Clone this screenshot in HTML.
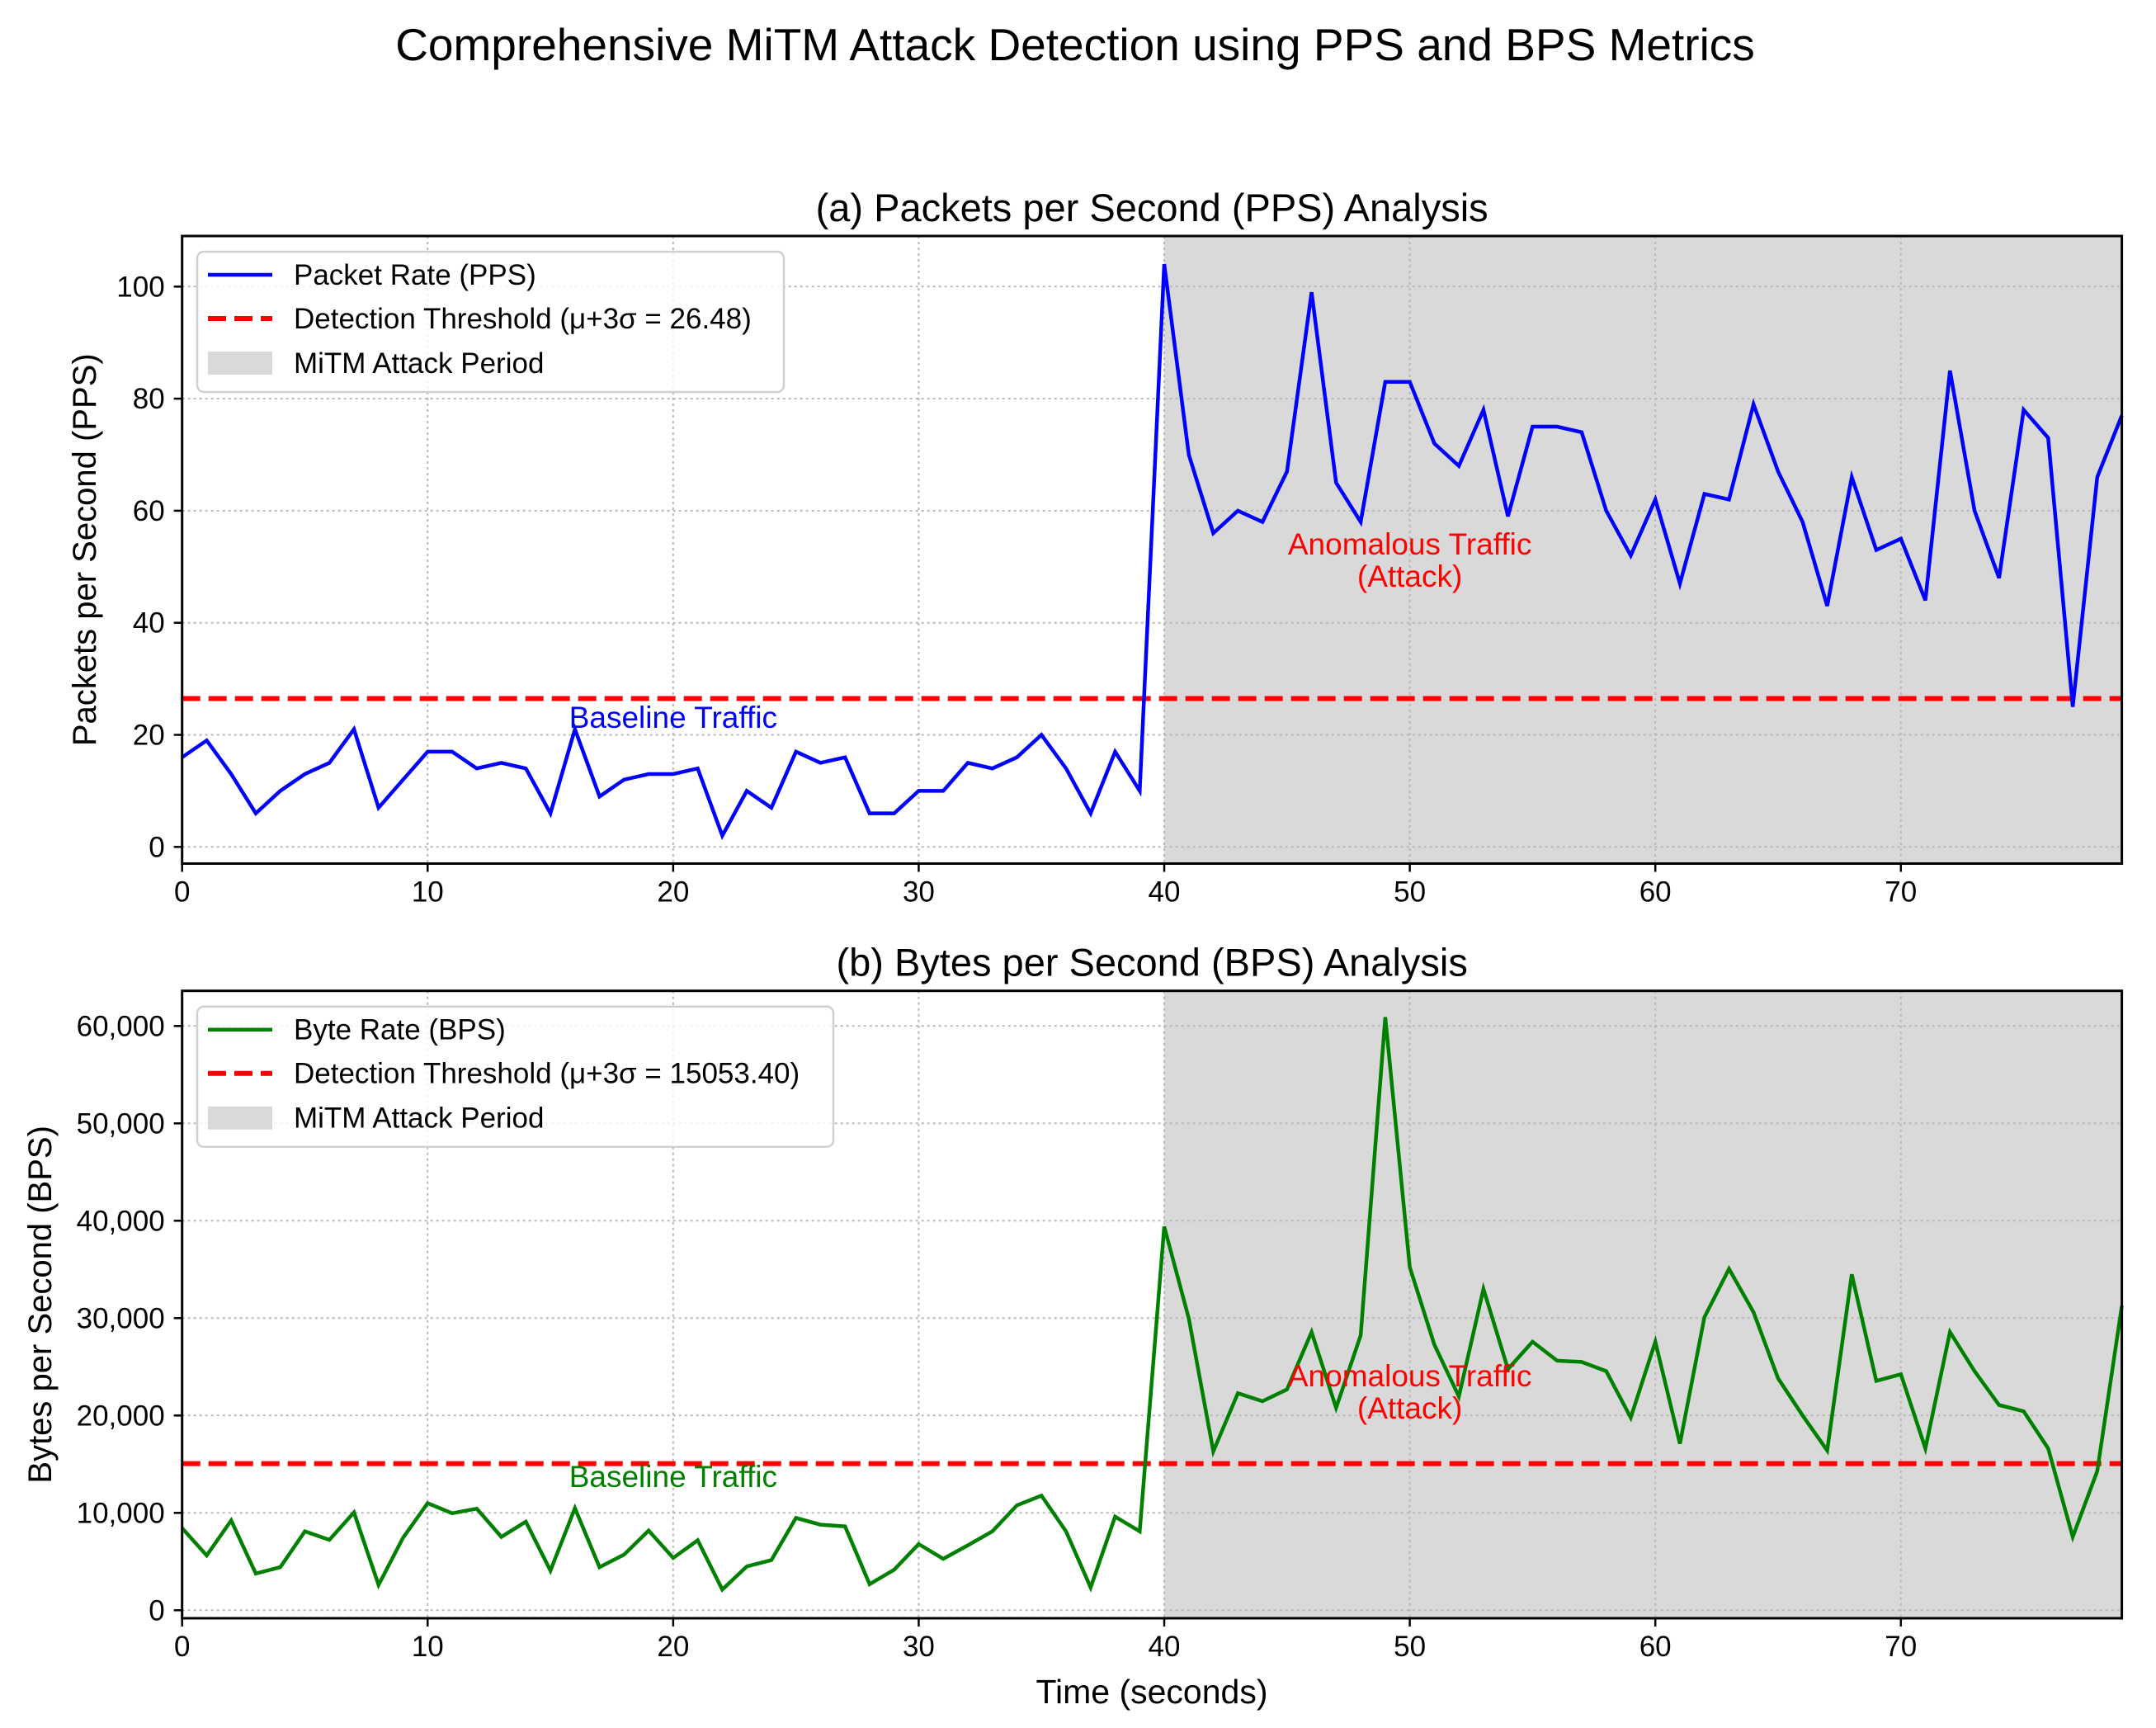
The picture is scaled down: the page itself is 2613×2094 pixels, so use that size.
<!DOCTYPE html>
<html><head><meta charset="utf-8"><style>
html,body{margin:0;padding:0;background:#fff;}
svg{display:block;font-family:"Liberation Sans",sans-serif;}
</style></head><body>
<svg id="chart" width="2613" height="2094" viewBox="0 0 2613 2094" xmlns="http://www.w3.org/2000/svg">
<rect width="2613" height="2094" fill="#fff"/>
<text x="1303" y="73" font-size="55" text-anchor="middle">Comprehensive MiTM Attack Detection using PPS and BPS Metrics</text>
<g id="top"></g>
<g id="bottom"></g>
</svg>
<script>
const timeSeconds = Array.from({length:80},(_, i)=>i);
const ppsValues = [16,19,13,6,10,13,15,21,7,12,17,17,14,15,14,6,21,9,12,13,13,14,2,10,7,17,15,16,6,6,10,10,15,14,16,20,14,6,17,10,
104,70,56,60,58,67,99,65,58,83,83,72,68,78,59,75,75,74,60,52,62,47,63,62,79,67,58,43,66,53,55,44,85,60,48,78,73,25,66,77];
const bpsValues = [8440,5630,9220,3770,4420,8100,7230,10040,2600,7450,11000,9960,10430,7530,9090,4070,10480,4420,5710,8180,5370,7190,2120,4500,5150,9480,8790,8610,2680,4160,6800,5280,6670,8100,10780,11770,8100,2340,9610,8100,
39400,29960,16320,22290,21470,22680,28570,20780,28230,60910,35240,27270,21950,32990,24760,27580,25630,25500,24550,19780,27580,17100,30090,35060,30610,23810,20000,16410,34500,23550,24240,16620,28570,24550,21080,20430,16620,7530,14290,31260];
const ppsThreshold = 26.48;
const bpsThreshold = 15053.40;
const attackStart = 40;
const attackEnd = 79;
const xTicks = [0,10,20,30,40,50,60,70];
const ppsTicks = [0,20,40,60,80,100];
const bpsTicks = [0,10000,20000,30000,40000,50000,60000];

const NS="http://www.w3.org/2000/svg";
function mk(parent,tag,attrs,text){const e=document.createElementNS(NS,tag);for(const k in attrs)e.setAttribute(k,attrs[k]);if(text!==undefined)e.textContent=text;parent.appendChild(e);return e;}

function panel(g,cfg){
  const L=220.7,R=2571.6,T=cfg.top,B=cfg.bottom;
  const xs=v=>L+(v-0)*(R-L)/79;
  const ys=v=>cfg.y0+(v-0)*(cfg.yTopPx-cfg.y0)/cfg.yTopVal;
  const sp=mk(g,'rect',{x:xs(attackStart),y:T,width:xs(attackEnd)-xs(attackStart),height:B-T,fill:'#d9d9d9'});
  
  
  xTicks.forEach(t=>{const l=mk(g,'line',{x1:xs(t),x2:xs(t),y1:T,y2:B,stroke:'#b8b8b8','stroke-width':2,'stroke-dasharray':'3,4'});
    });
  cfg.yTicks.forEach(t=>{const l=mk(g,'line',{x1:L,x2:R,y1:ys(t),y2:ys(t),stroke:'#b8b8b8','stroke-width':2,'stroke-dasharray':'3,4'});
    });
  const th=mk(g,'line',{x1:L,x2:R,y1:ys(cfg.threshold),y2:ys(cfg.threshold),stroke:'#ff0000','stroke-width':6,'stroke-dasharray':'22,10'});
  
  const pts=cfg.values.map((v,i)=>xs(timeSeconds[i]).toFixed(1)+','+ys(v).toFixed(1)).join(' ');
  const pl=mk(g,'polyline',{points:pts,fill:'none',stroke:cfg.color,'stroke-width':4.5,'stroke-linejoin':'miter'});
  
  const a1=mk(g,'text',{x:xs(20),y:cfg.baseY,'font-size':37,'text-anchor':'middle',fill:cfg.color},'Baseline Traffic');
  
  const a2=mk(g,'text',{x:xs(50),y:cfg.anomY,'font-size':37,'text-anchor':'middle',fill:'#ff0000'},'Anomalous Traffic');
  
  const a3=mk(g,'text',{x:xs(50),y:cfg.anomY+39,'font-size':37,'text-anchor':'middle',fill:'#ff0000'},'(Attack)');
  
  const fr=mk(g,'rect',{x:L,y:T,width:R-L,height:B-T,fill:'none',stroke:'#000','stroke-width':3});
  
  xTicks.forEach(t=>{mk(g,'line',{x1:xs(t),x2:xs(t),y1:B,y2:B+10,stroke:'#000','stroke-width':2.5});
    const tx=mk(g,'text',{x:xs(t),y:B+46,'font-size':35,'text-anchor':'middle'},String(t));
    });
  cfg.yTicks.forEach(t=>{mk(g,'line',{x1:L-10,x2:L,y1:ys(t),y2:ys(t),stroke:'#000','stroke-width':2.5});
    const tx=mk(g,'text',{x:L-21,y:ys(t)+12,'font-size':35,'text-anchor':'end'},t.toLocaleString('en-US'));
    });
  const ti=mk(g,'text',{x:(L+R)/2,y:T-18,'font-size':47,'text-anchor':'middle'},cfg.title);
  
  const yl=mk(g,'text',{x:cfg.ylabX,y:(T+B)/2,'font-size':40,'text-anchor':'middle',transform:`rotate(-90 ${cfg.ylabX} ${(T+B)/2})`},cfg.ylabel);
  
  const lg=mk(g,'g',{});
  
  mk(lg,'rect',{x:239,y:T+19,width:cfg.legW,height:170,rx:8,fill:'#fff','fill-opacity':0.8,stroke:'#d0d0d0','stroke-width':2.5});
  const ey=[T+47,T+100,T+154];
  mk(lg,'line',{x1:252,x2:330,y1:ey[0],y2:ey[0],stroke:cfg.color,'stroke-width':4.5});
  mk(lg,'line',{x1:252,x2:330,y1:ey[1],y2:ey[1],stroke:'#ff0000','stroke-width':6,'stroke-dasharray':'22,10'});
  mk(lg,'rect',{x:252,y:ey[2]-14,width:78,height:28,fill:'#d9d9d9'});
  const labels=[cfg.seriesLabel,cfg.thLabel,'MiTM Attack Period'];
  labels.forEach((s,i)=>{const t=mk(lg,'text',{x:356,y:ey[i]+12,'font-size':35},s);
    });
}
panel(document.getElementById('top'),{top:286,bottom:1046.5,y0:1026.3,yTopPx:347.3,yTopVal:100,yTicks:ppsTicks,values:ppsValues,threshold:ppsThreshold,
  color:'#0000ff',seriesName:'pps-line',title:'(a) Packets per Second (PPS) Analysis',ylabel:'Packets per Second (PPS)',ylabX:116,
  baseY:882,anomY:672,legW:711,seriesLabel:'Packet Rate (PPS)',thLabel:'Detection Threshold (μ+3σ = 26.48)'});
panel(document.getElementById('bottom'),{top:1200.7,bottom:1961,y0:1951.3,yTopPx:1243.3,yTopVal:60000,yTicks:bpsTicks,values:bpsValues,threshold:bpsThreshold,
  color:'#008000',seriesName:'bps-line',title:'(b) Bytes per Second (BPS) Analysis',ylabel:'Bytes per Second (BPS)',ylabX:62,
  baseY:1802,anomY:1680,legW:771,seriesLabel:'Byte Rate (BPS)',thLabel:'Detection Threshold (μ+3σ = 15053.40)'});
const xl=mk(document.getElementById('chart'),'text',{x:1396,y:2064,'font-size':41,'text-anchor':'middle'},'Time (seconds)');


</script>
</body></html>
